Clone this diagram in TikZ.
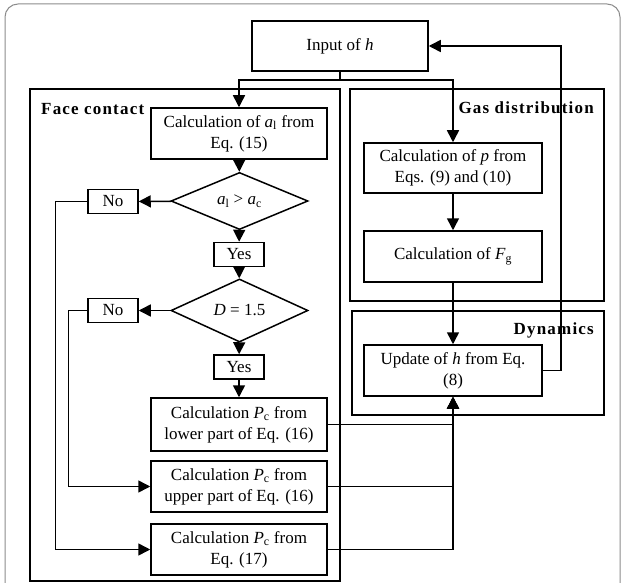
\documentclass[tikz,border=0pt]{standalone}
\usepackage{fontspec}
\setmainfont{Liberation Serif}
\newfontfamily\hdfont[LetterSpace=7]{Liberation Serif}
\usetikzlibrary{shapes.geometric,arrows.meta}
\newcommand{\vsub}[2]{\textit{#1}\textsubscript{#2}}
\begin{document}
\begin{tikzpicture}[x=1pt,y=-1pt,
  font=\fontsize{17}{21}\selectfont,
  box/.style={draw,line width=1.5pt,align=center,inner sep=0pt,minimum width=176pt,minimum height=51pt},
  ynbox/.style={draw,line width=1.5pt,inner sep=0pt,minimum width=50pt,minimum height=24pt},
  decide/.style={draw,diamond,line width=1.5pt,inner sep=0pt,minimum width=137pt,minimum height=42pt},
  frame/.style={draw,line width=1.5pt},
  hd/.style={font=\fontsize{17}{21}\hdfont\bfseries,inner sep=0pt},
  arr/.style={line width=1.5pt,-{Triangle[length=12pt,width=12pt]}},
  wire/.style={line width=1.5pt}]
\path[use as bounding box,fill=white] (0,0) rectangle (624,583);
\definecolor{frameColor}{RGB}{140,140,140}
\begin{scope}
\path[clip] (0,0) rectangle (624,583);
\draw[frameColor,line width=1pt,rounded corners=13pt] (5,4) rectangle (620,610);
\end{scope}

% group frames
\draw[frame] (30,89) rectangle (340,581);
\draw[frame] (350,89) rectangle (604,301);
\draw[frame] (352,311) rectangle (604,415);
\node[hd,anchor=west] (lblFace) at (41,109) {Face contact};
\node[hd,anchor=east] (lblGas) at (594,108) {Gas distribution};
\node[hd,anchor=east] (lblDyn) at (594,330) {Dynamics};

% nodes
\node[box,minimum height=50pt] (inp) at (340,46) {Input of \textit{h}};
\node[box] (calcA) at (239,133.5) {Calculation of \vsub{a}{l} from\\Eq. (15)};
\node[decide] (decA) at (239.5,201) {\vsub{a}{l} > \vsub{a}{c}};
\node[ynbox] (no1) at (113,201.5) {No};
\node[ynbox] (yes1) at (239,254.5) {Yes};
\node[decide,minimum height=43pt] (decD) at (239.5,310.5) {\textit{D} = 1.5};
\node[ynbox] (no2) at (113,310.5) {No};
\node[ynbox] (yes2) at (239,367) {Yes};
\node[box,minimum height=53pt] (pcLow) at (239,424.5) {Calculation \vsub{P}{c} from\\lower part of Eq. (16)};
\node[box] (pcUp) at (239,486.5) {Calculation \vsub{P}{c} from\\upper part of Eq. (16)};
\node[box] (pcEq) at (239,549.5) {Calculation \vsub{P}{c} from\\Eq. (17)};
\node[box,minimum width=178pt,minimum height=50pt] (calcP) at (453,168) {Calculation of \textit{p} from\\Eqs. (9) and (10)};
\node[box,minimum width=178pt] (calcF) at (453,256.5) {Calculation of \vsub{F}{g}};
\node[box,minimum width=178pt] (upd) at (453,370.5) {Update of \textit{h} from Eq.\\(8)};
\coordinate (split) at (340,80);

% connectors
\draw[wire] (inp.south) -- (split);
\draw[arr] (split) -| (calcA.north);
\draw[arr] (split) -| (calcP.north);
\draw[arr] (calcA) -- (decA);
\draw[arr] (decA) -- (no1);
\draw[arr] (decA) -- (yes1);
\draw[arr] (yes1) -- (decD);
\draw[arr] (decD) -- (no2);
\draw[arr] (decD) -- (yes2);
\draw[arr] (yes2) -- (pcLow);
\draw[arr] (no1.west) -- ++(-32,0) |- (pcEq.west);
\draw[arr] (no2.west) -- ++(-19,0) |- (pcUp.west);
\draw[arr] (calcP) -- (calcF);
\draw[arr] (calcF) -- (upd);
\draw[arr] (pcLow.east) -| (upd.south);
\draw[arr] (pcUp.east) -| (upd.south);
\draw[arr] (pcEq.east) -| (upd.south);
\draw[arr] (upd.east) -- ++(18,0) |- (inp.east);
\end{tikzpicture}
\end{document}
